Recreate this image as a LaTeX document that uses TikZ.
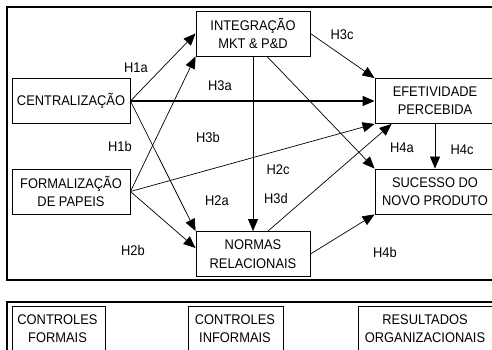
\documentclass[tikz,border=0pt]{standalone}
\usepackage{fontspec}
\setmainfont{Liberation Sans}[FakeStretch=0.92]
\usetikzlibrary{arrows.meta}

\begin{document}
\begin{tikzpicture}[x=1pt,y=-1pt,
        box/.style={draw, line width=0.9pt, minimum width=114pt, minimum height=45pt, align=center, inner sep=0pt, font=\fontsize{14}{18.5}\selectfont},
        hyp/.style={inner sep=0pt, font=\fontsize{14}{15}\selectfont},
        arr/.style={-{Triangle[length=12pt,width=10pt]}, line width=0.7pt},
        frame/.style={line width=1.2pt}]

        \useasboundingbox (0,0) rectangle (492,350);
        \clip (0,0) rectangle (492,350);

        % the two frames, both run past the right edge
        \draw[frame] (7,7) rectangle (500,280);
        \draw[frame] (7,302) rectangle (500,360);

        % constructs of the model
        \node[box, minimum width=118pt] (cent) at (71,101) {CENTRALIZAÇÃO};
        \node[box, minimum width=118pt] (form) at (71,191.5) {FORMALIZAÇÃO\\DE PAPEIS};
        \node[box] (integ) at (253,33.5) {INTEGRAÇÃO\\MKT \& P\&D};
        \node[box] (normas) at (253,254) {NORMAS\\RELACIONAIS};
        \node[box, minimum width=120pt] (efet) at (435,101) {EFETIVIDADE\\PERCEBIDA};
        \node[box, minimum width=120pt] (suc) at (435,191.5) {SUCESSO DO\\NOVO PRODUTO};

        % hypotheses
        \draw[arr] (cent.east) -- (integ.west);
        \draw[arr] (form.east) -- (integ.south west);
        \draw[arr] (cent.east) -- (normas.north west);
        \draw[arr] (form.east) -- ([yshift=6pt]normas.west);
        \draw[arr, line width=1.5pt] (cent.east) -- (efet.west);
        \draw[arr] (form.east) -- (efet.south west);
        \draw[arr] (integ.south) -- (normas.north);
        \draw[arr] ([xshift=14pt]integ.south) -- (suc.north west);
        \draw[arr] (integ.east) -- (efet.north west);
        \draw[arr] ([xshift=15pt]normas.north) -- ([xshift=17pt]efet.south west);
        \draw[arr] (efet.south) -- (suc.north);
        \draw[arr] (normas.east) -- (suc.south west);

        \node[hyp] (h1a) at (136,68) {H1a};
        \node[hyp] (h1b) at (120,146) {H1b};
        \node[hyp] (h2a) at (217,201) {H2a};
        \node[hyp] (h2b) at (133,250) {H2b};
        \node[hyp] (h2c) at (278,170) {H2c};
        \node[hyp] (h3a) at (220,86) {H3a};
        \node[hyp] (h3b) at (208,137) {H3b};
        \node[hyp] (h3c) at (342,35) {H3c};
        \node[hyp] (h3d) at (276,198) {H3d};
        \node[hyp] (h4a) at (402,148) {H4a};
        \node[hyp] (h4b) at (385,252) {H4b};
        \node[hyp] (h4c) at (462,150) {H4c};

        % legend boxes, cut at the bottom edge
        \draw[line width=0.9pt] (12,306) rectangle (105,360);
        \draw[line width=0.9pt] (188,306) rectangle (283,360);
        \draw[line width=0.9pt] (358,306) rectangle (500,360);
        \node[hyp, align=center, font=\fontsize{14}{18}\selectfont] (cf) at (57.5,329) {CONTROLES\\FORMAIS};
        \node[hyp, align=center, font=\fontsize{14}{18}\selectfont] (ci) at (235,329) {CONTROLES\\INFORMAIS};
        \node[hyp, align=center, font=\fontsize{14}{18}\selectfont] (ro) at (425,329) {RESULTADOS\\ORGANIZACIONAIS};

\end{tikzpicture}
\end{document}
